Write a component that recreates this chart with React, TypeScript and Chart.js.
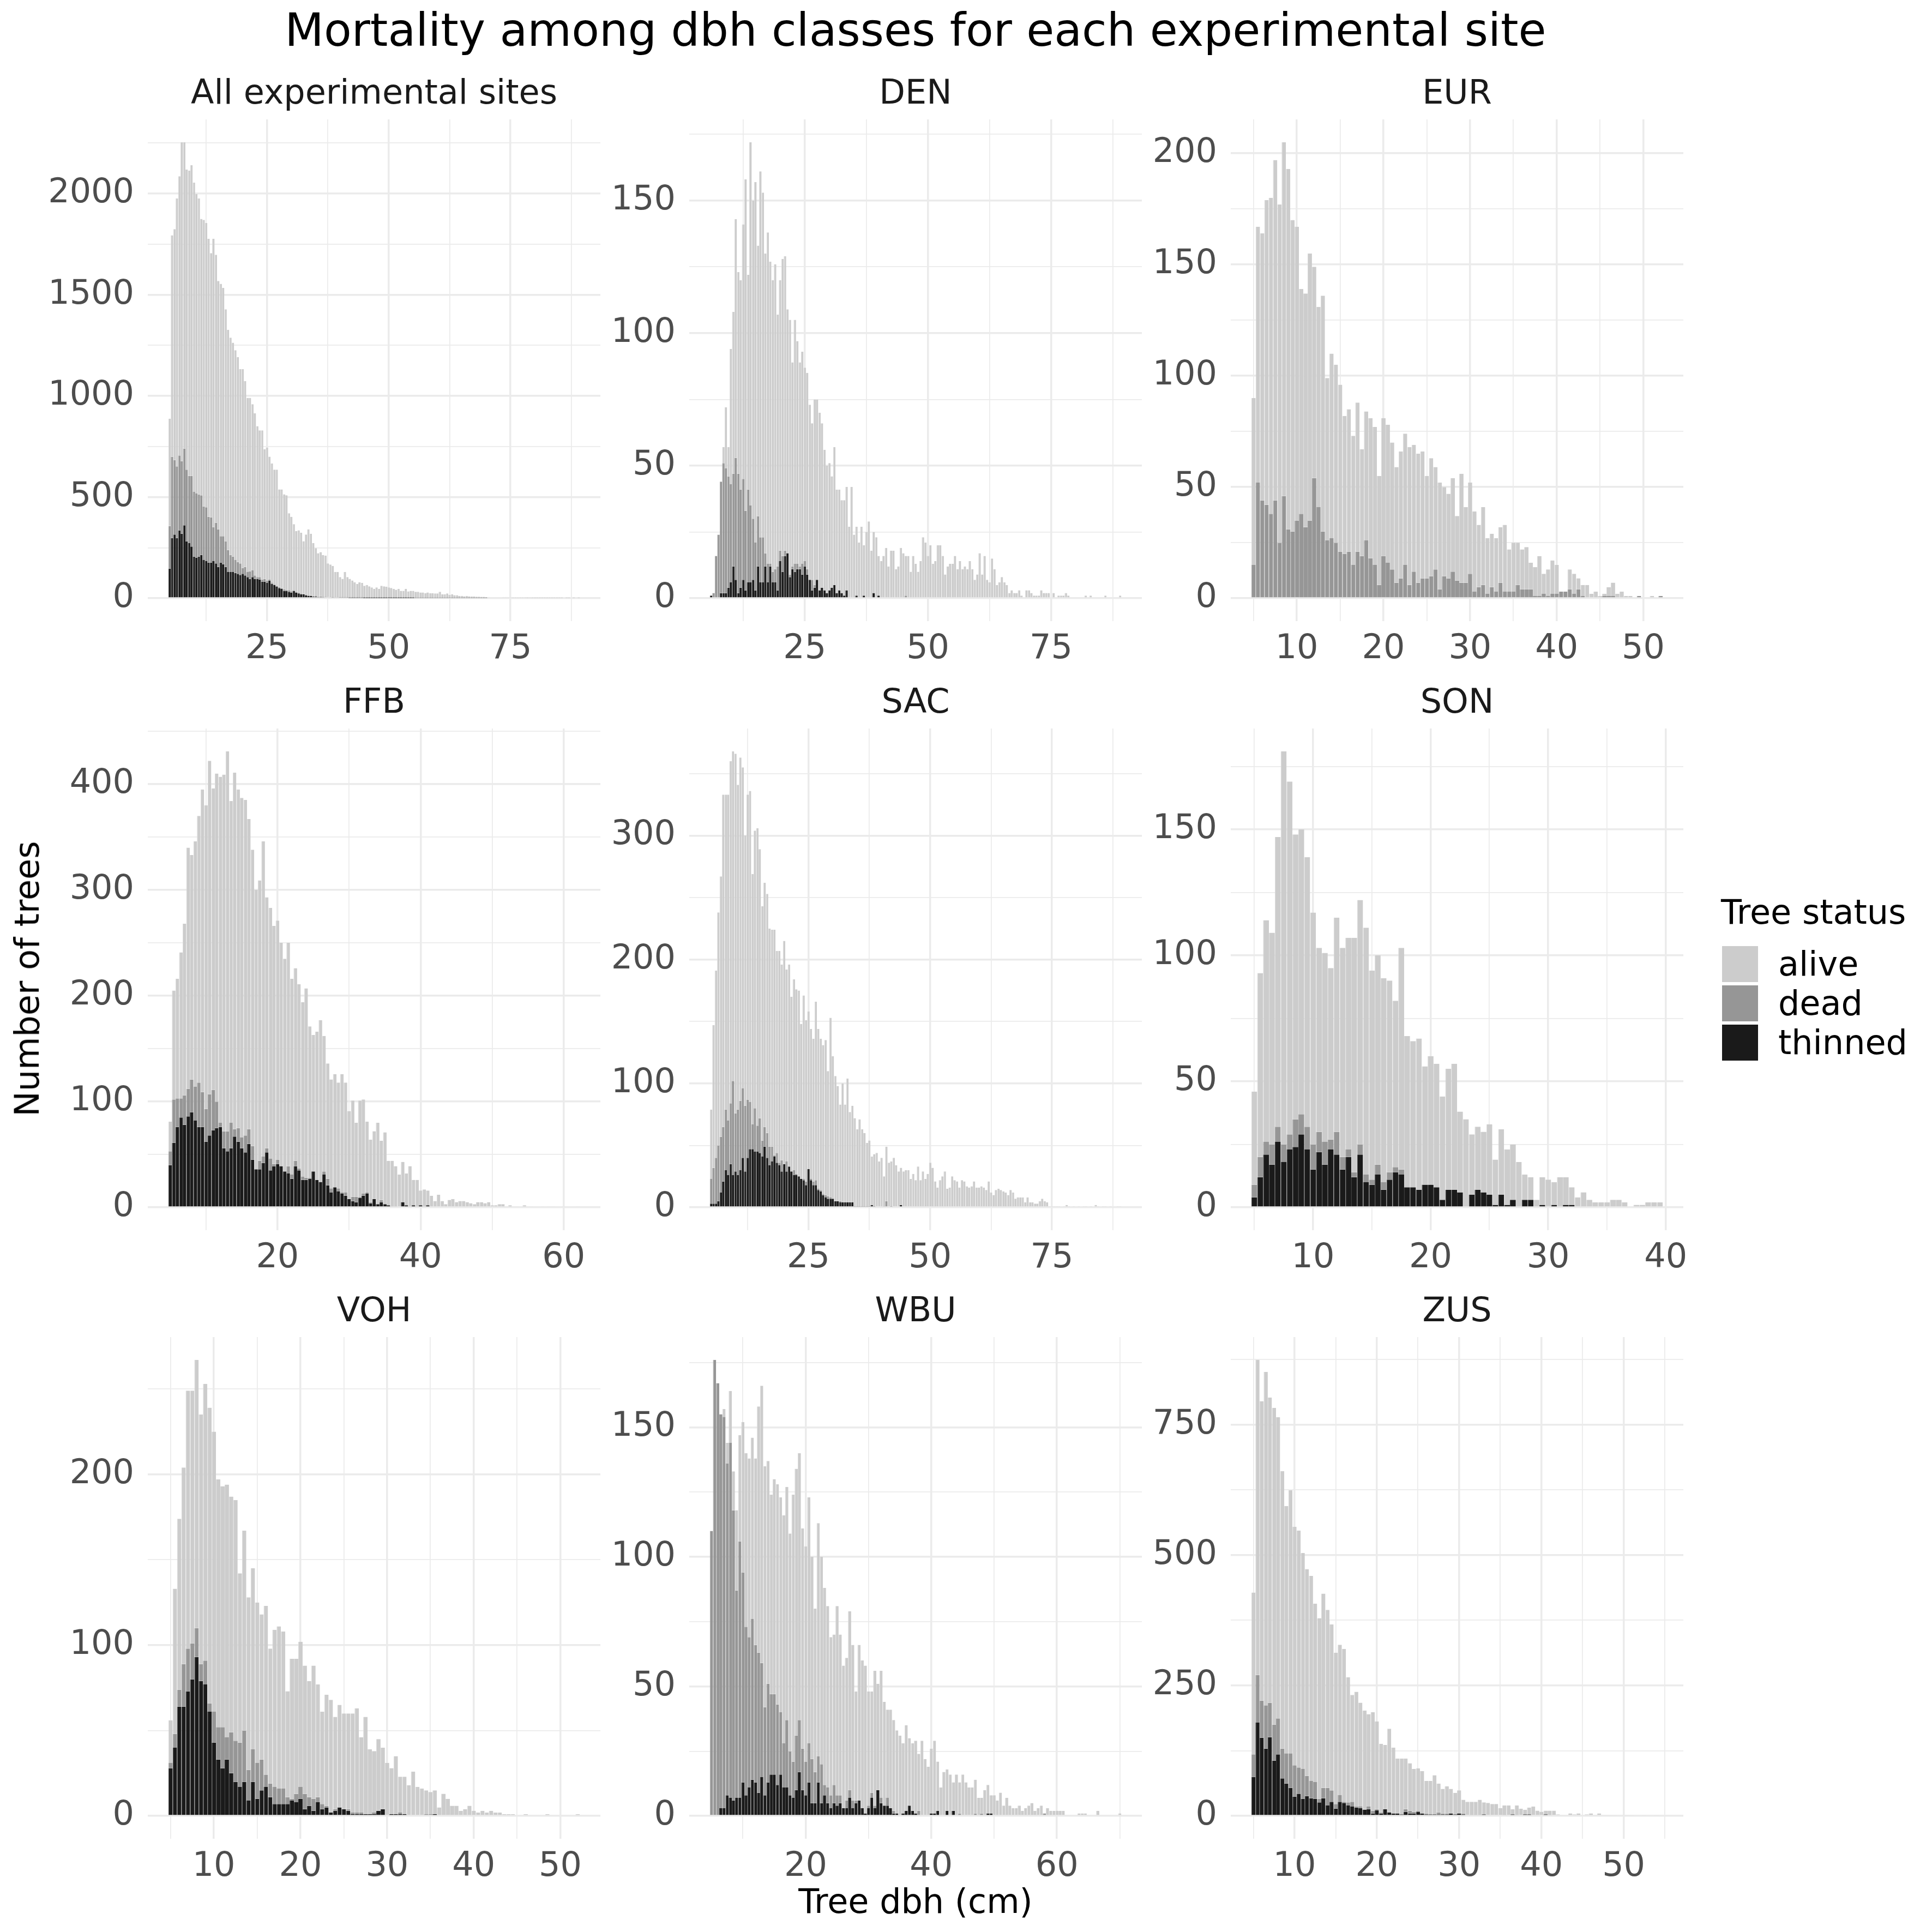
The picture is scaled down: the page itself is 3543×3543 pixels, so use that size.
import React, { useEffect, useRef } from 'react';
import { Chart, registerables } from 'chart.js';

Chart.register(...registerables);

// ---------------- data (bin width 0.5 cm; cumulative heights) ----------------
const BIN = 0.5;
const statusNames = ['alive', 'dead', 'thinned'];

// All experimental sites (first bin centre 5.0)
const allTop = [888,1794,1824,1976,2086,2254,2254,2119,2114,2140,2055,1998,1976,1875,1870,1855,1777,1706,1777,1698,1568,1554,1534,1428,1327,1288,1263,1226,1192,1133,1133,1074,990,990,959,914,851,830,830,737,745,700,666,636,636,538,538,514,509,420,403,366,332,336,324,282,315,341,319,273,248,223,228,214,211,172,167,160,130,130,105,96,130,105,96,88,79,71,79,76,62,66,59,54,46,54,46,62,59,57,54,51,46,42,46,37,37,46,34,37,37,32,32,29,29,25,29,25,25,24,24,32,20,20,24,17,20,15,15,12,12,10,11,10,9,9,8,8,7,7,6,6,5,5,4,4,4,3,3,3,3,2,2,2,2,2,2,1,2,1,1,1,1,1,1,1,1,1,1,1,1,1,0,1,1,0,1,0,1];
const allDeadTop = [357,700,683,652,706,678,740,636,605,605,526,518,513,509,454,450,403,400,352,374,341,307,307,282,239,214,206,189,180,172,150,155,130,133,138,113,105,105,93,96,88,92,78,70,62,55,50,44,42,40,35,40,32,28,24,23,19,16,15,12,11,10,9,8,8,7,6,6,5,5,4,4,4,3,3,3,3,3,2,2,2,2,2,2,2,2,2,2,2,2,2,2,2,2,2,2,2,2,2,2,2,1,1,1,1,1,1,1,1,1,1,1,1,1,1,1,1,1,1,1,1,1,1,1,1,1,1,1,1,1,1];
const allThinned = [147,298,315,298,336,319,361,282,273,256,206,201,206,214,189,184,177,177,184,172,155,177,169,155,130,130,130,125,121,116,121,113,105,96,105,96,96,93,83,83,76,88,71,66,57,49,46,37,37,32,29,37,29,24,20,20,15,12,12,8,8,7,6,6,5,5,5,4,4,4,3,3,3,3,2,2,2,2,2,2,1,1,1,1,1,1,1,1,1,1,1,1,1,1,1,1,1,1,1,1,1];

// DEN (first bin centre 6.0)
const denTop = [1,2,16,24,44,57,72,57,94,108,143,123,120,141,158,122,172,150,157,133,161,153,130,138,127,120,126,107,120,128,129,109,105,89,105,97,89,93,87,85,73,66,75,75,70,66,56,50,51,46,57,41,41,37,37,42,27,42,24,27,21,27,20,25,29,18,25,23,16,14,16,19,12,18,18,11,12,19,17,16,16,10,16,13,10,14,23,21,16,20,13,14,20,20,16,9,12,13,13,16,11,14,11,12,11,14,11,7,9,17,9,16,7,6,15,11,5,6,8,6,5,2,3,2,2,3,1,0,3,3,2,1,1,1,3,2,2,2,0,2,0,1,1,1,2,1,0,0,0,0,0,0,1,0,1,0,0,0,0,0,1,0,0,0,0,0,1];
const denDeadTop = [1,2,16,24,44,51,49,46,43,47,53,47,41,45,33,41,35,30,21,31,23,23,17,13,13,10,11,12,18,16,18,17,9,12,13,13,12,13,14,11,7,7,5,7,3,4,3,2,3,4,5,2,3,2,1,3,0,0,0,1,0,0,1,0,0,0,2,0,1,0,0,0,0,0,0,0,0,0,0,1];
const denThinned = [1,0,0,0,2,2,2,4,6,12,7,2,4,7,3,6,6,7,3,12,6,6,12,6,12,6,6,3,14,10,16,17,8,11,10,11,11,9,12,9,7,3,4,7,3,4,3,2,3,4,5,2,3,2,1,3,0,0,0,1,0,0,1,0,0,0,2,0,1,0];

// EUR (first bin centre 5.0)
const eurTop = [90,167,164,179,180,197,177,205,193,170,167,139,137,155,149,131,136,99,110,105,96,82,85,73,88,67,84,81,77,55,81,78,70,59,66,74,68,69,65,66,55,63,59,52,50,47,54,37,56,41,52,39,33,41,27,29,27,32,33,22,25,25,22,23,16,14,19,11,13,17,15,3,3,13,11,9,6,6,2,3,1,2,5,7,2,3,1,1,0,1,0,0,1,0,1];
const eurDeadTop = [15,52,44,42,38,44,25,46,31,30,35,38,32,35,54,41,30,26,27,25,21,20,21,15,21,19,26,18,15,6,19,16,13,7,9,15,6,12,7,9,9,10,13,4,10,9,12,8,7,7,11,3,5,6,2,5,3,7,3,3,3,6,4,4,4,1,1,2,1,2,2,3,3,4,2,4,1,0,0,0,0,1,1,1,0,0,0,0,0,1,0,0,0,0,1];
const eurThinned: number[] = [];

// FFB (first bin centre 5.0)
const ffbTop = [81,205,216,241,268,340,333,346,370,395,380,422,396,410,407,409,431,384,411,395,387,385,367,338,300,309,346,293,283,266,271,250,235,250,216,226,211,194,207,171,163,166,177,162,136,121,126,118,126,118,91,101,80,101,102,81,64,72,80,63,71,44,44,39,31,43,32,39,26,26,16,17,16,11,6,12,6,3,7,8,5,6,6,5,4,3,5,5,4,5,2,2,3,3,1,2,1,1,0,2,1,1,0,0,1,0,1,1,0,0,1,0,0,0,1];
const ffbDeadTop = [53,102,103,103,106,112,121,114,118,109,93,107,111,100,80,72,72,80,74,75,66,68,74,58,36,44,48,56,46,41,45,39,34,39,31,44,37,29,28,28,34,26,24,34,27,18,19,18,14,14,8,10,10,10,13,14,5,8,3,7,3,2,1,1,0,5,2,1,2,1,2,1,2];
const ffbThinned = [40,61,76,85,78,86,90,82,76,76,62,68,73,75,76,56,53,56,67,62,56,52,60,45,36,36,42,52,35,39,41,39,34,32,27,39,35,26,26,27,34,26,24,31,21,14,19,15,13,11,8,6,5,9,11,13,4,8,3,5,3,2,1,1,0,5,2,1,2,1,2,1,2];

// SAC (first bin centre 5.0)
const sacTop = [79,147,191,238,267,333,333,333,360,368,366,341,363,355,300,333,336,269,304,306,289,243,262,253,225,224,224,207,207,196,215,192,196,170,184,176,175,148,171,151,158,144,136,166,144,136,131,135,110,153,122,106,98,83,100,83,104,77,82,72,63,71,63,60,52,54,41,43,44,37,40,25,49,36,37,40,34,29,32,29,30,30,23,27,22,33,22,29,23,27,36,32,21,16,22,25,29,15,16,25,22,21,16,22,21,17,16,17,21,16,16,17,16,14,21,12,10,14,15,14,13,12,10,14,12,7,8,8,8,4,8,4,4,3,3,5,7,5,4,1,1,1,1,1,0,1,2,1,0,1,0,1,0,1,1,0,1,0,2,1,0,1,1,0,1,0,0,1,1];
const sacDeadTop = [23,32,40,50,57,65,79,70,84,102,76,79,86,96,82,87,85,67,80,66,72,54,65,60,49,49,42,44,36,38,35,37,33,29,30,27,25,23,23,21,31,23,21,22,15,14,11,10,9,8,7,5,5,5,4,4,4,4,4,1,1,1,1,1,1,1,2,1,0,0,0,1,5,0,1,0,0,0,2,0];
const sacThinned = [3,3,3,5,12,21,30,26,35,26,29,26,30,40,29,40,47,47,45,45,44,41,49,40,34,37,41,36,34,29,35,29,33,29,26,26,25,23,22,18,31,22,18,18,14,13,10,8,7,7,7,5,5,4,4,4,4,4,4,1,1,1,1,1,1,1,2,1,0,0,0,0,0,0,1,0,0,0,2,0];

// SON (first bin centre 5.0)
const sonTop = [46,93,114,109,147,181,169,148,150,139,117,103,101,95,115,103,107,107,122,111,94,100,91,90,82,103,68,66,67,56,60,57,44,55,57,38,35,29,32,30,33,19,31,23,25,18,13,12,3,12,11,10,12,12,8,4,6,3,2,2,2,3,3,2,0,1,1,2,2,2];
const sonDeadTop = [9,20,26,25,32,25,29,35,37,32,25,30,26,27,30,20,23,14,25,13,11,17,10,14,16,15,8,8,7,9,9,8,3,7,7,6,0,5,7,6,5,1,5,1,3,0,3,3,0,1,0,1,0,1,1];
const sonThinned = [4,12,21,17,26,18,23,24,29,23,15,22,17,23,21,15,20,12,21,10,9,13,7,11,14,13,8,8,7,9,9,8,3,7,7,6,0,5,7,6,5,1,5,1,3,0,3,3,0,1,0,1,0,1,1];

// VOH (first bin centre 5.0)
const vohTop = [56,133,174,204,249,249,267,235,253,239,225,197,193,194,187,185,142,167,128,145,125,118,123,98,109,111,108,73,92,92,102,88,79,88,77,61,71,68,58,65,60,60,60,63,46,58,39,38,45,40,31,28,35,23,23,18,26,17,16,15,14,15,5,13,10,6,6,3,4,6,3,2,3,2,3,2,2,1,1,1,0,0,1,0,0,0,0,1,0,0,0,0,0,0,1];
const vohDeadTop = [31,48,74,89,98,101,110,89,91,66,61,52,52,46,49,44,43,50,27,39,31,33,24,19,17,16,16,11,10,13,17,13,11,10,11,7,6,2,4,5,4,4,2,2,2,1,1,2,3,4,0,1,1,2,1,0,0,0,0,1,1,1];
const vohThinned = [28,40,64,64,73,80,93,79,77,61,43,33,28,33,25,20,17,20,9,20,10,15,17,11,7,7,7,7,9,8,10,4,6,3,8,4,5,2,3,5,4,3,1,1,1,1,1,1,3,4,0,1,1,1,1,0,0,0,0,0,0,1];

// WBU (first bin centre 5.0)
const wbuTop = [110,176,167,155,157,144,164,133,118,147,152,140,138,146,138,158,166,135,137,124,130,128,123,116,127,109,124,134,140,111,104,123,100,80,113,100,88,81,69,70,81,70,58,61,79,66,48,66,60,58,48,48,56,51,56,44,41,41,37,33,31,28,35,30,28,29,24,29,22,19,26,29,21,11,17,18,16,13,16,13,16,13,11,11,14,7,7,10,12,8,8,6,9,4,7,4,3,3,4,2,3,4,5,2,3,4,1,3,2,2,2,2,2,0,0,0,0,1,1,1,0,0,0,2,0,0,0,0,0,0,1];
const wbuDeadTop = [110,176,167,155,154,136,144,118,87,106,94,73,69,76,66,63,59,42,51,47,47,43,40,28,37,25,21,31,37,26,21,28,22,17,23,20,12,11,8,12,8,8,3,6,10,6,6,6,3,1,4,9,4,10,7,4,7,3,2,1,0,1,2,4,2,1,2,0,0,0,1,1,2,0,0,2,0,2,0,1,0,0,0,0,1,0,1,0,1,1,0,0,0,0,0,0,0,0,0,0,0,0,0,0,0,0,1];
const wbuThinned = [0,0,0,3,3,8,7,6,7,7,13,8,11,14,13,9,15,8,13,16,16,12,16,11,11,8,7,10,17,10,8,13,5,5,13,5,8,5,3,5,4,5,3,3,7,3,5,6,3,1,3,7,3,10,5,4,4,3,1,1,0,1,2,4,2,1,0,0,0,0,1,1,2,0,0,2,0,2,0,0,0,0,0,0,0,0,0,0,1,1];

// ZUS (first bin centre 5.0)
const zusTop = [428,874,795,851,802,782,764,661,594,624,554,547,504,473,460,407,379,426,395,367,313,328,320,266,232,238,217,202,195,199,181,138,136,167,131,110,110,110,101,90,91,86,67,67,78,62,52,57,52,44,49,31,27,27,27,31,26,25,23,23,15,20,20,13,20,14,12,16,18,10,8,10,10,10,3,2,2,5,3,5,2,3,5,2,5,2,2,2,2,0,2,2,2,0,0,2,0,0,2,0];
const zusDeadTop = [118,270,221,212,217,175,187,129,120,120,97,93,90,77,67,65,33,54,54,49,23,40,27,26,27,18,18,13,18,10,13,7,13,7,5,5,3,13,10,8,10,5,5,3,3,7,5,5,5,3,5,5,0,2,2,2,3,0,0,0,0,2,0,3,2,0,3,3,0,0,0,3,2,0,0,0,0,0,0,0,0,2];
const zusThinned = [75,179,150,129,151,106,118,72,62,54,37,42,33,38,34,33,26,34,20,27,14,27,25,20,18,16,15,12,13,5,11,5,13,7,5,5,3,8,5,5,8,5,3,3,3,3,3,3,5,3,5,3,0,2,2,2,3,0,0,0,0,2,0,3,2,0,3,3,0,0,0,3,2,0];

type PanelDef = {
  name: string;
  start: number;
  top: number[];
  deadTop: number[];
  thinned: number[];
  xStep: number;
  yStep: number;
};

const panels: PanelDef[] = [
  { name: 'All experimental sites', start: 5, top: allTop, deadTop: allDeadTop, thinned: allThinned, xStep: 25, yStep: 500 },
  { name: 'DEN', start: 6, top: denTop, deadTop: denDeadTop, thinned: denThinned, xStep: 25, yStep: 50 },
  { name: 'EUR', start: 5, top: eurTop, deadTop: eurDeadTop, thinned: eurThinned, xStep: 10, yStep: 50 },
  { name: 'FFB', start: 5, top: ffbTop, deadTop: ffbDeadTop, thinned: ffbThinned, xStep: 20, yStep: 100 },
  { name: 'SAC', start: 5, top: sacTop, deadTop: sacDeadTop, thinned: sacThinned, xStep: 25, yStep: 100 },
  { name: 'SON', start: 5, top: sonTop, deadTop: sonDeadTop, thinned: sonThinned, xStep: 10, yStep: 50 },
  { name: 'VOH', start: 5, top: vohTop, deadTop: vohDeadTop, thinned: vohThinned, xStep: 10, yStep: 100 },
  { name: 'WBU', start: 5, top: wbuTop, deadTop: wbuDeadTop, thinned: wbuThinned, xStep: 20, yStep: 50 },
  { name: 'ZUS', start: 5, top: zusTop, deadTop: zusDeadTop, thinned: zusThinned, xStep: 10, yStep: 250 },
];

// ---------------- layout / style ----------------
const FONT = "'DejaVu Sans', sans-serif";
const PANEL_W = 830;
const PANEL_H = 920;
const COL_X = [271, 1264, 2257];
const ROW_Y = [219, 1336, 2452];
const YAXIS_W = 190;
const TITLE_H = 86;
const XAXIS_H = 90;
const RIGHT_PAD = 45;
const FILL = { alive: '#CCCCCC', dead: '#969696', thinned: '#1A1A1A' } as Record<string, string>;
const SEAM = { alive: '#DCDCDC', dead: '#A8A8A8', thinned: '#3E3E3E' } as Record<string, string>;
const GRID = '#EBEBEB';

function isMajor(v: number, step: number) {
  const r = v / step;
  return Math.abs(r - Math.round(r)) < 1e-7;
}

function tickList(min: number, max: number, step: number) {
  const out: number[] = [];
  const k0 = Math.ceil(min / step - 1e-9);
  for (let k = k0; k * step <= max + 1e-9; k++) out.push(Math.round(k * step * 1000) / 1000);
  return out;
}

function Panel({ def, index }: { def: PanelDef; index: number }) {
  const ref = useRef<HTMLCanvasElement | null>(null);
  const col = index % 3;
  const row = Math.floor(index / 3);
  const cw = YAXIS_W + PANEL_W + RIGHT_PAD;
  const ch = TITLE_H + PANEL_H + XAXIS_H;

  useEffect(() => {
    const n = def.top.length;
    const xs = def.top.map((_, i) => def.start + i * BIN);
    const th = xs.map((_, i) => def.thinned[i] ?? 0);
    const dt = xs.map((_, i) => Math.max(def.deadTop[i] ?? 0, th[i]));
    const tp = xs.map((_, i) => Math.max(def.top[i], dt[i]));
    const counts: Record<string, number[]> = {
      thinned: th,
      dead: xs.map((_, i) => dt[i] - th[i]),
      alive: xs.map((_, i) => tp[i] - dt[i]),
    };
    const ymax = Math.max(...tp);
    const lo = def.start - BIN / 2;
    const hi = xs[n - 1] + BIN / 2;
    const xpad = 0.05 * (hi - lo);
    const xmin = lo - xpad;
    const xmax = hi + xpad;
    const ymin = -0.05 * ymax;
    const ymaxAx = 1.05 * ymax;
    const xTicks = tickList(xmin, xmax, def.xStep / 2);
    const yTicks = tickList(0, ymaxAx, def.yStep / 2);
    const tickFont = { family: FONT, size: 62, lineHeight: 1 };

    const order = ['thinned', 'dead', 'alive'];
    const chart = new Chart(ref.current as HTMLCanvasElement, {
      type: 'bar',
      data: {
        datasets: order.map((s) => ({
          label: s,
          data: xs.map((x, i) => ({ x, y: counts[s][i] })),
          backgroundColor: FILL[s],
          borderColor: SEAM[s],
          borderWidth: { left: 1, right: 0, top: 0, bottom: 0 },
          borderSkipped: false,
          inflateAmount: 0,
          barPercentage: 1,
          categoryPercentage: 1,
        })),
      } as any,
      options: {
        responsive: false,
        animation: false,
        devicePixelRatio: 1,
        layout: { padding: { left: 0, right: RIGHT_PAD, top: 0, bottom: 0 } },
        plugins: {
          legend: { display: false },
          tooltip: { enabled: false },
          title: {
            display: true,
            text: def.name,
            color: '#1A1A1A',
            font: { family: FONT, size: 62, weight: 'normal', lineHeight: 1 },
            padding: { top: 10, bottom: 14 },
            fullSize: false,
          },
        },
        scales: {
          x: {
            type: 'linear',
            stacked: true,
            bounds: 'data',
            min: xmin,
            max: xmax,
            offset: false,
            grid: {
              offset: false,
              color: GRID,
              drawTicks: false,
              lineWidth: (c: any) => (c.tick && isMajor(c.tick.value, def.xStep) ? 3.5 : 1.75),
            },
            border: { display: false },
            ticks: {
              autoSkip: false,
              maxRotation: 0,
              minRotation: 0,
              padding: 21,
              color: '#4D4D4D',
              font: tickFont,
              callback: (v: any) => (isMajor(Number(v), def.xStep) ? String(v) : ''),
            },
            afterBuildTicks: (s: any) => {
              s.ticks = xTicks.map((v) => ({ value: v }));
            },
            afterFit: (s: any) => {
              s.height = XAXIS_H;
            },
          },
          y: {
            type: 'linear',
            stacked: true,
            bounds: 'data',
            min: ymin,
            max: ymaxAx,
            grid: {
              color: GRID,
              drawTicks: false,
              lineWidth: (c: any) => (c.tick && isMajor(c.tick.value, def.yStep) ? 3.5 : 1.75),
            },
            border: { display: false },
            ticks: {
              autoSkip: false,
              padding: 25,
              color: '#4D4D4D',
              font: tickFont,
              callback: (v: any) => (isMajor(Number(v), def.yStep) ? String(v) : ''),
            },
            afterBuildTicks: (s: any) => {
              s.ticks = yTicks.map((v) => ({ value: v }));
            },
            afterFit: (s: any) => {
              s.width = YAXIS_W;
            },
          },
        },
      } as any,
    });
    return () => chart.destroy();
  }, [def]);

  return (
    <canvas
      ref={ref}
      width={cw}
      height={ch}
      style={{ position: 'absolute', left: COL_X[col] - YAXIS_W, top: ROW_Y[row] - TITLE_H, width: cw, height: ch }}
    />
  );
}

export default function App() {
  const keyTops = [1735, 1807, 1879];
  return (
    <div
      style={{
        position: 'absolute',
        left: 0,
        top: 0,
        width: 3543,
        height: 3543,
        background: '#FFFFFF',
        overflow: 'hidden',
        fontFamily: FONT,
      }}
    >
      <div
        style={{
          position: 'absolute',
          left: 1679,
          top: 14,
          transform: 'translateX(-50%)',
          fontSize: 83,
          lineHeight: '83px',
          whiteSpace: 'nowrap',
          color: '#000',
        }}
      >
        Mortality among dbh classes for each experimental site
      </div>

      {panels.map((p, i) => (
        <Panel key={p.name} def={p} index={i} />
      ))}

      <div
        style={{
          position: 'absolute',
          left: 50,
          top: 1795,
          transform: 'translate(-50%, -50%) rotate(-90deg)',
          fontSize: 62,
          lineHeight: '62px',
          whiteSpace: 'nowrap',
          color: '#000',
        }}
      >
        Number of trees
      </div>
      <div
        style={{
          position: 'absolute',
          left: 1679,
          top: 3487,
          transform: 'translate(-50%, -50%)',
          fontSize: 62,
          lineHeight: '62px',
          whiteSpace: 'nowrap',
          color: '#000',
        }}
      >
        Tree dbh (cm)
      </div>

      <div
        style={{
          position: 'absolute',
          left: 3156,
          top: 1642,
          fontSize: 62,
          lineHeight: '62px',
          whiteSpace: 'nowrap',
          color: '#000',
        }}
      >
        Tree status
      </div>
      {statusNames.map((s, i) => (
        <React.Fragment key={s}>
          <div
            style={{
              position: 'absolute',
              left: 3158,
              top: keyTops[i],
              width: 66,
              height: 66,
              background: FILL[s],
            }}
          />
          <div
            style={{
              position: 'absolute',
              left: 3261,
              top: keyTops[i] + 2,
              fontSize: 62,
              lineHeight: '62px',
              whiteSpace: 'nowrap',
              color: '#000',
            }}
          >
            {s}
          </div>
        </React.Fragment>
      ))}
    </div>
  );
}
